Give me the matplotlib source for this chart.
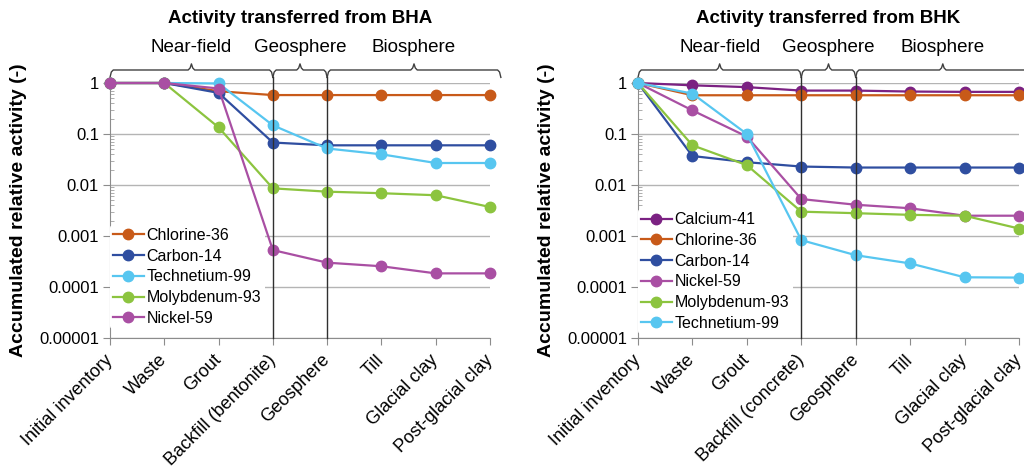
import matplotlib
matplotlib.use('Agg')
import matplotlib.pyplot as plt
import matplotlib.ticker as mticker
from matplotlib.transforms import blended_transform_factory
import numpy as np

plt.rcParams['font.family'] = ['Liberation Sans', 'DejaVu Sans']

# x categories
cats_bha = ['Initial inventory', 'Waste', 'Grout', 'Backfill (bentonite)',
            'Geosphere', 'Till', 'Glacial clay', 'Post-glacial clay']
cats_bhk = ['Initial inventory', 'Waste', 'Grout', 'Backfill (concrete)',
            'Geosphere', 'Till', 'Glacial clay', 'Post-glacial clay']

# BHA series
bha_cl36 = [1, 1, 0.69, 0.58, 0.58, 0.58, 0.58, 0.58]
bha_c14 = [1, 1, 0.64, 0.068, 0.06, 0.06, 0.06, 0.06]
bha_tc99 = [1, 1, 0.98, 0.148, 0.052, 0.040, 0.027, 0.027]
bha_mo93 = [1, 1, 0.135, 0.0086, 0.0074, 0.0069, 0.0063, 0.0037]
bha_ni59 = [1, 1, 0.78, 0.00053, 0.00030, 0.000255, 0.000185, 0.000185]

# BHK series
bhk_ca41 = [1, 0.90, 0.83, 0.71, 0.71, 0.68, 0.67, 0.67]
bhk_cl36 = [1, 0.575, 0.575, 0.575, 0.575, 0.575, 0.575, 0.575]
bhk_c14 = [1, 0.037, 0.028, 0.023, 0.022, 0.022, 0.022, 0.022]
bhk_ni59 = [1, 0.29, 0.089, 0.0053, 0.0041, 0.0035, 0.0025, 0.0025]
bhk_mo93 = [1, 0.06, 0.0245, 0.0030, 0.0028, 0.0026, 0.0025, 0.0014]
bhk_tc99 = [1, 0.62, 0.10, 0.00083, 0.00042, 0.00029, 0.000155, 0.000153]

regions = ['Near-field', 'Geosphere', 'Biosphere']
region_bounds = [(0, 3), (3, 4), (4, 7.2)]
yticks = [1e-5, 1e-4, 1e-3, 1e-2, 1e-1, 1]
ytick_labels = ['0.00001', '0.0001', '0.001', '0.01', '0.1', '1']

colors = {
    'Calcium-41': '#7B2182',
    'Chlorine-36': '#C85A19',
    'Carbon-14': '#2F4EA0',
    'Technetium-99': '#57C6F0',
    'Molybdenum-93': '#8CC43F',
    'Nickel-59': '#A94FA3',
}

bha = [('Chlorine-36', bha_cl36), ('Carbon-14', bha_c14), ('Technetium-99', bha_tc99),
       ('Molybdenum-93', bha_mo93), ('Nickel-59', bha_ni59)]
bhk = [('Calcium-41', bhk_ca41), ('Chlorine-36', bhk_cl36), ('Carbon-14', bhk_c14),
       ('Nickel-59', bhk_ni59), ('Molybdenum-93', bhk_mo93), ('Technetium-99', bhk_tc99)]

fig = plt.figure(figsize=(10.24, 4.68), dpi=100)
ax1 = fig.add_axes([110 / 1024, 130 / 468, 380 / 1024, 255 / 468])
ax2 = fig.add_axes([638 / 1024, 130 / 468, 381 / 1024, 255 / 468])


def draw_bracket(ax, x0, x1, label):
    tr = blended_transform_factory(ax.transData, ax.transAxes)
    xm = (x0 + x1) / 2
    yl, yh, yt = 1.051, 1.022, 1.075
    d = 0.06
    xs = [x0, x0 + d * 0.4, x0 + d, xm - d, xm - d * 0.4, xm, xm + d * 0.4, xm + d,
          x1 - d, x1 - d * 0.4, x1]
    ys = [yh, yl - 0.008, yl, yl, yl + 0.008, yt, yl + 0.008, yl, yl, yl - 0.008, yh]
    ax.plot(xs, ys, color='#404040', lw=1, transform=tr, clip_on=False)
    ax.text(xm, 1.141, label, transform=tr, ha='center', va='center', fontsize=13.5)


def draw_panel(ax, cats, series, title, legend_y):
    x = np.arange(len(cats))
    ax.set_yscale('log')
    ax.set_ylim(1e-5, 1)
    ax.set_xlim(0, len(cats) - 1)
    ax.yaxis.grid(True, color='#B4B4B4', lw=1, zorder=0)
    ax.set_axisbelow(True)
    for name, vals in series:
        ax.plot(x, vals, '-o', color=colors[name], lw=1.6, ms=7.5, label=name,
                clip_on=False, zorder=3)
    for s in ['top', 'right']:
        ax.spines[s].set_visible(False)
    for s in ['left', 'bottom']:
        ax.spines[s].set_color('#8C8C8C')
    ax.set_yticks(yticks)
    ax.set_yticklabels(ytick_labels, fontsize=12)
    ax.yaxis.set_minor_locator(mticker.LogLocator(base=10, subs=np.arange(2, 10)))
    ax.yaxis.set_minor_formatter(mticker.NullFormatter())
    ax.tick_params(axis='y', which='major', length=5, color='#8C8C8C', pad=3)
    ax.tick_params(axis='y', which='minor', direction='in', length=3, color='#A0A0A0')
    ax.set_xticks(x)
    ax.set_xticklabels(cats, rotation=45, ha='right', va='center',
                       rotation_mode='anchor', fontsize=13)
    ax.tick_params(axis='x', length=5, color='#8C8C8C', pad=9)
    ax.set_ylabel('Accumulated relative activity (-)', fontsize=14, fontweight='bold')
    tr = blended_transform_factory(ax.transData, ax.transAxes)
    for xv in (3, 4):
        ax.plot([xv, xv], [0, 1.022], color='#303030', lw=1, transform=tr, clip_on=False, zorder=4)
    for (a, b), lab in zip(region_bounds, regions):
        draw_bracket(ax, a, b, lab)
    ax.text(0.5, 1.251, title, transform=ax.transAxes, ha='center', va='center',
            fontsize=13.5, fontweight='bold')
    leg = ax.legend(loc='lower left', bbox_to_anchor=(0.0, legend_y), frameon=True,
                    fontsize=11.5, handlelength=1.9, handletextpad=0.2, labelspacing=0.36,
                    borderpad=0.2, borderaxespad=0.0)
    leg.get_frame().set_edgecolor('none')
    leg.get_frame().set_facecolor('white')
    leg.get_frame().set_alpha(1)
    leg.set_zorder(2.5)


draw_panel(ax1, cats_bha, bha, 'Activity transferred from BHA', 0.035)
draw_panel(ax2, cats_bhk, bhk, 'Activity transferred from BHK', 0.015)
ax1.yaxis.set_label_coords(-0.218, 0.5)
ax2.yaxis.set_label_coords(-0.218, 0.5)

fig.savefig('out.png', dpi=100)
